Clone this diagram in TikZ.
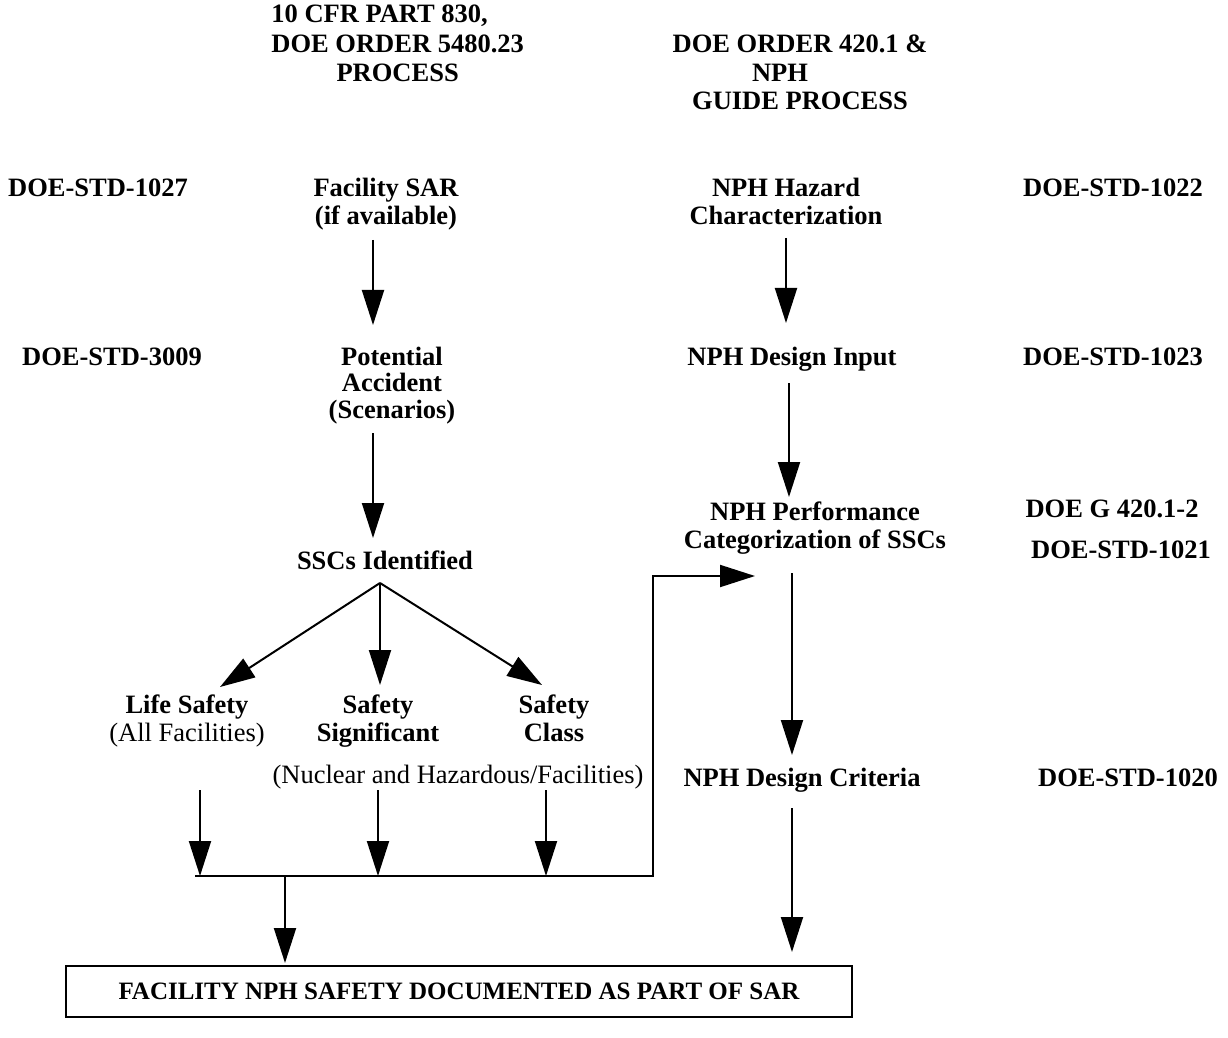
\documentclass[tikz,border=0pt]{standalone}
\usepackage{fontspec}
\setmainfont{Liberation Serif}
\usetikzlibrary{arrows.meta}
\newcommand{\stk}[2][c]{\begin{tabular}[t]{@{}#1@{}}#2\end{tabular}}

\begin{document}
\begin{tikzpicture}[x=0.5pt,y=-0.5pt,
    txt/.style={font=\fontsize{13.25}{14}\selectfont\bfseries,inner sep=0pt,anchor=base},
    arr/.style={line width=1pt,-{Triangle[length=17.5pt,width=11pt]}}] % px grid, y down
   \useasboundingbox (0,0) rectangle (1228,1038);
   \node[txt,anchor=base west,font=\fontsize{13.25}{14.75}\selectfont\bfseries] (cfr) at (271,23)
        {\stk[l]{10 CFR PART 830,\\DOE ORDER 5480.23\\\multicolumn{1}{@{}c@{}}{PROCESS}}};
   \node[txt,font=\fontsize{13.25}{14.25}\selectfont\bfseries] (order) at (800,53)
        {\stk{DOE ORDER 420.1 \&\\NPH\hspace*{20pt}\\GUIDE PROCESS}};
   % left column
   \node[txt] (sar) at (386,197) {\stk{Facility SAR\\(if available)}};
   \node[txt,font=\fontsize{13.25}{13.25}\selectfont\bfseries] (pot) at (392,365)
        {\stk{Potential\\Accident\\(Scenarios)}};
   \node[txt] (ssc) at (385,569) {SSCs Identified};
   \node[txt] (life) at (187,713) {\stk{Life Safety\\\mdseries(All Facilities)}};
   \node[txt] (sig) at (378,713) {\stk{Safety\\Significant}};
   \node[txt] (cls) at (554,713) {\stk{Safety\\Class}};
   \node[txt,font=\fontsize{13.25}{14}\selectfont] (nuc) at (458,783) {(Nuclear and Hazardous/Facilities)};
   % right column
   \node[txt] (haz) at (786,197) {\stk{NPH Hazard\\Characterization}};
   \node[txt] (din) at (792,365) {NPH Design Input};
   \node[txt] (perf) at (815,520) {\stk{NPH Performance\\Categorization of SSCs}};
   \node[txt] (crit) at (802,786) {NPH Design Criteria};
   % standards
   \node[txt] (s1027) at (98,197) {DOE-STD-1027};
   \node[txt] (s3009) at (112,365) {DOE-STD-3009};
   \node[txt] (s1022) at (1113,197) {DOE-STD-1022};
   \node[txt] (s1023) at (1113,365) {DOE-STD-1023};
   \node[txt] (g4201) at (1112,517) {DOE G 420.1-2};
   \node[txt] (s1021) at (1121,558) {DOE-STD-1021};
   \node[txt] (s1020) at (1128,786) {DOE-STD-1020};
   \node[txt,anchor=center,draw,line width=1pt,minimum width=393pt,minimum height=25.5pt,
         font=\fontsize{12.5}{14}\selectfont\bfseries] (doc)
        at (459,991.5) {FACILITY NPH SAFETY DOCUMENTED AS PART OF SAR};
   % arrow ends
   \coordinate (sar-o) at (373,240);  \coordinate (pot-i) at (373,325);
   \coordinate (pot-o) at (373,433);  \coordinate (ssc-i) at (373,538);
   \coordinate (haz-o) at (786,238);  \coordinate (din-i) at (786,323);
   \coordinate (din-o) at (789,383);  \coordinate (perf-i) at (789,497);
   \coordinate (perf-o) at (792,573); \coordinate (crit-i) at (792,755);
   \coordinate (crit-o) at (792,808); \coordinate (doc-r) at (792,952);
   \coordinate (fan) at (380,583);
   \coordinate (life-i) at (220,687); \coordinate (sig-i) at (380,685); \coordinate (cls-i) at (542,685);
   \coordinate (life-o) at (200,790); \coordinate (sig-o) at (378,790); \coordinate (cls-o) at (546,790);
   \coordinate (bus-l) at (195,876);  \coordinate (bus-r) at (653,876);
   \coordinate (drop) at (285,876);   \coordinate (perf-w) at (755,576);
   \draw[arr] (sar-o) -- (pot-i);
   \draw[arr] (pot-o) -- (ssc-i);
   \draw[arr] (haz-o) -- (din-i);
   \draw[arr] (din-o) -- (perf-i);
   \draw[arr] (perf-o) -- (crit-i);
   \draw[arr] (crit-o) -- (doc-r);
   \draw[arr] (fan) -- (life-i);
   \draw[arr] (fan) -- (sig-i);
   \draw[arr] (fan) -- (cls-i);
   \draw[arr] (life-o) -- (life-o |- bus-l);
   \draw[arr] (sig-o) -- (sig-o |- bus-l);
   \draw[arr] (cls-o) -- (cls-o |- bus-l);
   \draw[arr] (bus-l) -- (bus-r) |- (perf-w);
   \draw[arr,shorten >=1pt] (drop) -- (drop |- doc.north);
\end{tikzpicture}
\end{document}
